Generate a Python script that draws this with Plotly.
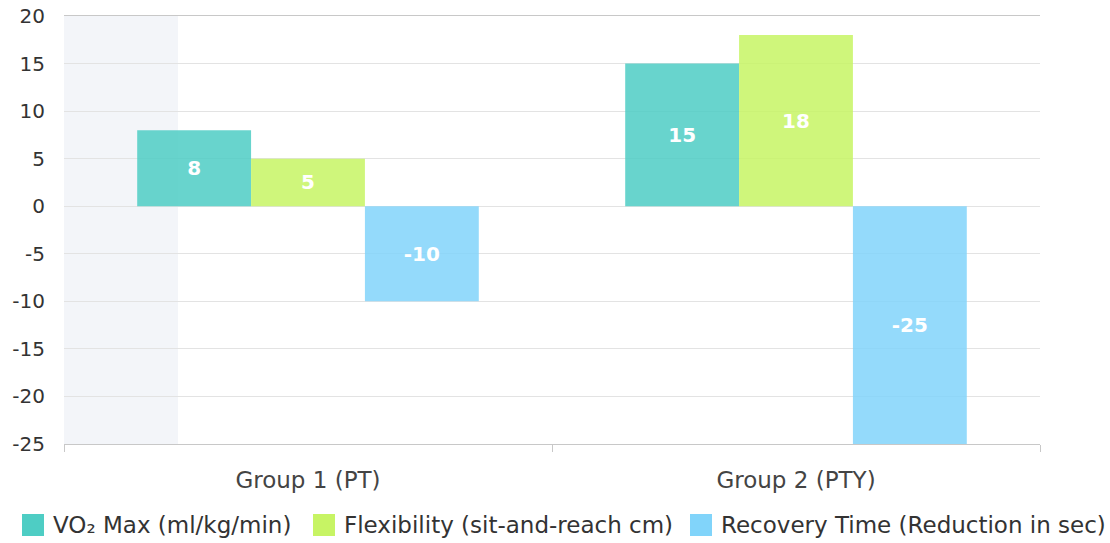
import plotly.graph_objects as go

categories = ["Group 1 (PT)", "Group 2 (PTY)"]
series_names = ["VO₂ Max (ml/kg/min)", "Flexibility (sit-and-reach cm)", "Recovery Time (Reduction in sec)"]
vo2_max = [8, 15]
flexibility = [5, 18]
recovery_time = [-10, -25]
y_ticks = [20, 15, 10, 5, 0, -5, -10, -15, -20, -25]

base_colors = ["#4ECDC4", "#C7F464", "#81D4FA"]
bar_colors = ["rgba(78,205,196,0.85)", "rgba(199,244,100,0.85)", "rgba(129,212,250,0.85)"]

FONT = "DejaVu Sans"
W, H = 1110, 543
ML, MR, MT, MB = 64, 70, 16, 99
PW, PH = W - ML - MR, H - MT - MB


def px_x(px):
    return (px - ML) / PW


def px_y(py):
    return (H - MB - py) / PH


fig = go.Figure()
for name, vals, col in zip(series_names, [vo2_max, flexibility, recovery_time], bar_colors):
    fig.add_trace(go.Bar(
        x=categories, y=vals, name=name,
        marker=dict(color=col, line=dict(width=0)),
        text=[str(v) for v in vals],
        textposition="inside", insidetextanchor="middle",
        textangle=0,
        textfont=dict(family=FONT, size=20, color="white", weight="bold"),
        showlegend=False,
    ))

# manual legend (swatch + label)
legend_swatch_left = [22, 313, 690]
legend_y = 525
sw = 22
shapes = [dict(
    type="rect", xref="paper", yref="paper", x0=0, x1=px_x(178), y0=0, y1=1,
    fillcolor="#F3F5F9", line=dict(width=0), layer="below",
)]
annotations = []
for name, col, left in zip(series_names, base_colors, legend_swatch_left):
    shapes.append(dict(
        type="rect", xref="paper", yref="paper",
        x0=px_x(left), x1=px_x(left + sw),
        y0=px_y(legend_y + sw / 2), y1=px_y(legend_y - sw / 2),
        fillcolor=col, line=dict(width=0),
    ))
    annotations.append(dict(
        xref="paper", yref="paper", x=px_x(left + sw + 7), y=px_y(legend_y),
        xanchor="left", yanchor="middle", showarrow=False, text=name,
        font=dict(family=FONT, size=23, color="#333333"),
    ))

fig.update_layout(
    width=W, height=H,
    margin=dict(l=ML, r=MR, t=MT, b=MB, autoexpand=False),
    paper_bgcolor="white", plot_bgcolor="white",
    barmode="group", bargap=0.3, bargroupgap=0,
    font=dict(family=FONT, color="#333333"),
    showlegend=False,
    shapes=shapes,
    annotations=annotations,
)

fig.update_xaxes(
    showgrid=False, showline=True, linecolor="#c8c8c8", linewidth=1, mirror=True,
    ticks="outside", tickson="boundaries", ticklen=7, tickcolor="#c8c8c8",
    tickfont=dict(family=FONT, size=23, color="#444444"),
    ticklabelstandoff=15, automargin=False,
)
fig.update_yaxes(
    range=[-25, 20], tickvals=y_ticks, ticktext=[str(v) for v in y_ticks],
    showgrid=True, gridcolor="#e3e3e3", gridwidth=1,
    zeroline=True, zerolinecolor="#e3e3e3", zerolinewidth=1,
    showline=False,
    tickfont=dict(family=FONT, size=20, color="#333333"),
    ticklabelstandoff=18, automargin=False,
)

fig.write_html("out.html")
